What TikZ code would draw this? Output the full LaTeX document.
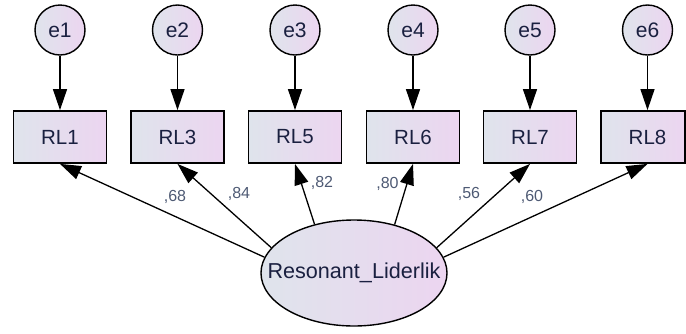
\documentclass[tikz,border=0pt]{standalone}
\usepackage{fontspec}
\setmainfont{Liberation Sans}
\usetikzlibrary{arrows.meta,calc,shapes.geometric}
\definecolor{fillL}{HTML}{DFE4EC}
\definecolor{fillR}{HTML}{ECD5F0}
\definecolor{txt}{HTML}{1A2040}
\definecolor{coef}{HTML}{4E5A74}
\begin{document}
\begin{tikzpicture}[x=1pt,y=-1pt,
  errc/.style={circle,draw=black,line width=1.4pt,minimum size=50pt,inner sep=0pt,
    left color=fillL,right color=fillR,text=txt,font=\fontsize{21}{24}\selectfont},
  obsbox/.style={rectangle,draw=black,line width=1.8pt,minimum width=93pt,minimum height=52pt,inner sep=0pt,
    left color=fillL,right color=fillR,text=txt,font=\fontsize{20.5}{24}\selectfont},
  latent/.style={ellipse,draw=black,line width=1.4pt,minimum width=186pt,minimum height=106pt,inner sep=0pt,
    left color=fillL,right color=fillR,text=txt,font=\fontsize{21.6}{24}\selectfont},
  arr/.style={draw=black,line width=1.3pt,-{Triangle[length=21pt,width=14pt]}},
  coeflbl/.style={text=coef,font=\fontsize{16}{18}\selectfont,inner sep=0pt}]
\useasboundingbox (0,0) rectangle (686,333);
% error terms
\node[errc] (e1) at (60,30) {e1};
\node[errc] (e2) at (177.5,30) {e2};
\node[errc] (e3) at (295,30) {e3};
\node[errc] (e4) at (413,30) {e4};
\node[errc] (e5) at (530,30) {e5};
\node[errc] (e6) at (647.5,30) {e6};
% observed variables
\node[obsbox] (RL1) at (60,137) {RL1};
\node[obsbox] (RL3) at (177.5,137) {RL3};
\node[obsbox] (RL5) at (295,137) {RL5};
\node[obsbox] (RL6) at (413,137) {RL6};
\node[obsbox] (RL7) at (530,137) {RL7};
\node[obsbox,minimum width=84pt] (RL8) at (643,137) {\hspace*{9pt}RL8};
% latent
\node[latent] (E) at (354,273) {\makebox[0pt]{Resonant\_Liderlik}};
% error arrows
\draw[arr] (e1) -- (RL1.north);
\draw[arr] (e2) -- (RL3.north);
\draw[arr] (e3) -- (RL5.north);
\draw[arr] (e4) -- (RL6.north);
\draw[arr] (e5) -- (RL7.north);
\draw[arr] (e6) -- (e6 |- RL8.north);
% loadings
\draw[arr] (E.170) -- (RL1.south);
\draw[arr] (E.163) -- (RL3.south);
\draw[arr] (E.129) -- (RL5.south);
\draw[arr] (E.50) -- (RL6.south);
\draw[arr] (E.17) -- (RL7.south);
\draw[arr] (E.10) -- (e6 |- RL8.south);
% coefficients
\node[coeflbl] (c1) at (175,197) {,68};
\node[coeflbl] (c2) at (239,194) {,84};
\node[coeflbl] (c3) at (322,183) {,82};
\node[coeflbl] (c4) at (387.5,184) {,80};
\node[coeflbl] (c5) at (469,194) {,56};
\node[coeflbl] (c6) at (532,197) {,60};
\end{tikzpicture}
\end{document}
